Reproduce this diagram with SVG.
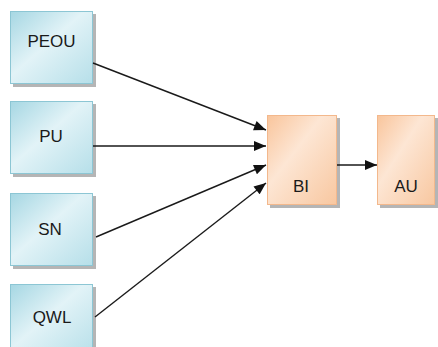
<svg xmlns="http://www.w3.org/2000/svg" width="438" height="347" viewBox="0 0 438 347">
<defs>
<linearGradient id="gb" x1="0" y1="0" x2="1" y2="1">
<stop offset="0" stop-color="#a6d7e3"/>
<stop offset="0.45" stop-color="#e2f3f7"/>
<stop offset="1" stop-color="#b6dfe9"/>
</linearGradient>
<linearGradient id="go" x1="0" y1="0" x2="1" y2="1">
<stop offset="0" stop-color="#f9c59c"/>
<stop offset="0.4" stop-color="#fde6d4"/>
<stop offset="1" stop-color="#f8c7a0"/>
</linearGradient>
<marker id="ah" viewBox="0 0 12 10" refX="12" refY="5" markerWidth="13" markerHeight="10" markerUnits="userSpaceOnUse" orient="auto">
<path d="M0,0 L12,5 L0,10 Z" fill="#111"/>
</marker>
</defs>
<style>
.sh{fill:#b5b5b5;}
.b{fill:url(#gb);stroke:#8cc6d4;stroke-width:1;}
.o{fill:url(#go);stroke:#f3b88c;stroke-width:1;}
.t{font-family:"Liberation Sans",Arial,sans-serif;font-size:17px;fill:#1a1a1a;text-anchor:middle;}
.c{stroke:#1a1a1a;stroke-width:1.4;fill:none;marker-end:url(#ah);}
</style>
<rect width="438" height="347" fill="#ffffff"/>
<g id="PEOU">
<rect class="sh" x="13" y="14" width="83" height="73"/>
<rect class="b" x="10.5" y="11.5" width="82" height="72"/>
<text class="t" x="51.5" y="47">PEOU</text>
</g>
<g id="PU">
<rect class="sh" x="13" y="104" width="83" height="73"/>
<rect class="b" x="10.5" y="101.5" width="82" height="72"/>
<text class="t" x="51" y="142">PU</text>
</g>
<g id="SN">
<rect class="sh" x="13" y="196" width="83" height="73"/>
<rect class="b" x="10.5" y="193.5" width="82" height="72"/>
<text class="t" x="50" y="235">SN</text>
</g>
<g id="QWL">
<rect class="sh" x="13" y="287" width="83" height="73"/>
<rect class="b" x="10.5" y="284.5" width="82" height="72"/>
<text class="t" x="52" y="323">QWL</text>
</g>
<g id="BI">
<rect class="sh" x="270" y="118" width="70" height="90"/>
<rect class="o" x="267.5" y="115.5" width="69" height="89"/>
<text class="t" x="301" y="192">BI</text>
</g>
<g id="AU">
<rect class="sh" x="380" y="118" width="58" height="90"/>
<rect class="o" x="377.5" y="115.5" width="57" height="89"/>
<text class="t" x="406" y="192">AU</text>
</g>
<g id="connectors">
<line class="c" x1="93" y1="63" x2="266" y2="130"/>
<line class="c" x1="93" y1="146" x2="266" y2="146"/>
<line class="c" x1="96" y1="237" x2="266" y2="165"/>
<line class="c" x1="95" y1="317" x2="266" y2="183"/>
<line class="c" x1="337" y1="165" x2="377" y2="165"/>
</g>
</svg>
